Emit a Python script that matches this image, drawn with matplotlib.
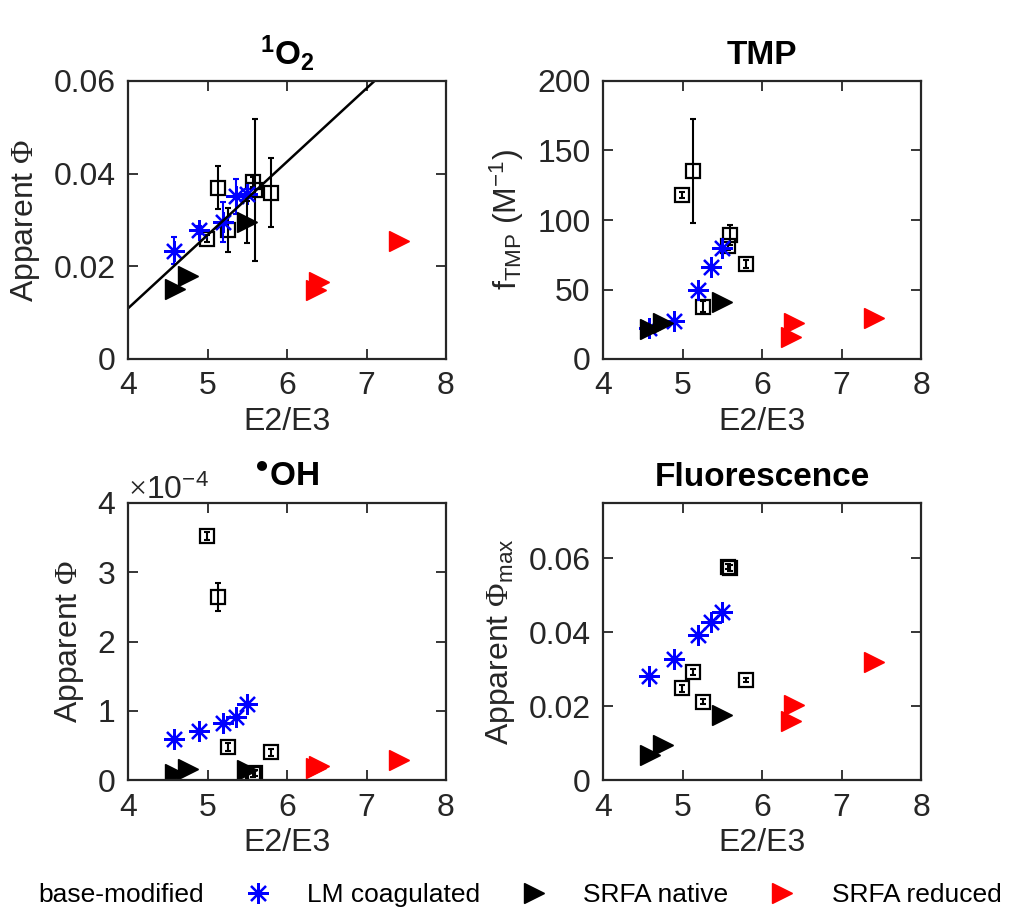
import numpy as np
import matplotlib
matplotlib.use("Agg")
import matplotlib.pyplot as plt
from matplotlib.lines import Line2D
from matplotlib.ticker import ScalarFormatter

plt.rcParams['font.family'] = ['Liberation Sans', 'DejaVu Sans']
plt.rcParams['mathtext.fontset'] = 'custom'
plt.rcParams['mathtext.rm'] = 'Liberation Serif'
plt.rcParams['mathtext.sf'] = 'Liberation Sans'
plt.rcParams['mathtext.bf'] = 'Liberation Sans:bold'
plt.rcParams['mathtext.it'] = 'Liberation Sans:italic'
plt.rcParams['mathtext.fallback'] = 'stixsans'

# ---- E2/E3 of each sample group ----
base_x = [4.99, 5.13, 5.26, 5.57, 5.60, 5.80]
lm_x = [4.58, 4.89, 5.19, 5.36, 5.50]
native_x = [4.59, 4.76, 5.50]
reduced_x = [6.37, 6.40, 7.41]

# ---- singlet oxygen apparent quantum yield ----
o2_base = [0.0260, 0.0370, 0.0278, 0.0382, 0.0364, 0.0359]
o2_base_err = [0.0008, 0.0047, 0.0047, 0.0010, 0.0153, 0.0074]
o2_lm = [0.0234, 0.0278, 0.0295, 0.0351, 0.0357]
o2_lm_err = [0.0029, 0.0008, 0.0043, 0.0038, 0.0010]
o2_native = [0.0152, 0.0180, 0.0296]
o2_native_err = [0.0005, 0.0005, 0.0046]
o2_reduced = [0.0150, 0.0166, 0.0255]
o2_fit_slope = 0.01583
o2_fit_intercept = -0.0524

# ---- TMP (triplet) reactivity ----
tmp_base = [118.0, 135.3, 37.6, 81.3, 89.2, 68.3]
tmp_base_err = [2.0, 37.4, 4.0, 3.0, 7.0, 3.0]
tmp_lm = [22.0, 27.6, 49.6, 66.4, 79.6]
tmp_native = [21.8, 26.1, 41.0]
tmp_reduced = [15.8, 25.7, 29.5]

# ---- hydroxyl radical apparent quantum yield ----
oh_base = [3.52e-4, 2.64e-4, 0.48e-4, 0.08e-4, 0.10e-4, 0.40e-4]
oh_base_err = [0.06e-4, 0.20e-4, 0.06e-4, 0.04e-4, 0.04e-4, 0.05e-4]
oh_lm = [0.588e-4, 0.713e-4, 0.83e-4, 0.906e-4, 1.098e-4]
oh_native = [0.09e-4, 0.164e-4, 0.15e-4]
oh_reduced = [0.17e-4, 0.20e-4, 0.29e-4]

# ---- fluorescence maximum apparent quantum yield ----
fl_base = [0.0248, 0.0293, 0.0212, 0.0578, 0.0575, 0.0270]
fl_base_err = [0.0010, 0.0008, 0.0007, 0.0008, 0.0008, 0.0006]
fl_lm = [0.0281, 0.0327, 0.0392, 0.0428, 0.0455]
fl_native = [0.0067, 0.0096, 0.0176]
fl_reduced = [0.0160, 0.0204, 0.0320]

legend_labels = ['base-modified', 'LM coagulated', 'SRFA native', 'SRFA reduced']

FS = 23
AX_COLOR = '#262626'
BLUE = (0, 0, 1)
RED = (1, 0, 0)
STAR = (8, 2, 0)

square_kw = dict(marker='s', ms=9.5, mfc='none', mec='k', mew=1.6, ls='none')
star_kw = dict(marker=STAR, ms=15, mec=BLUE, mew=1.6, ls='none')
native_kw = dict(marker='>', ms=15, mfc='k', mec='k', ls='none')
reduced_kw = dict(marker='>', ms=15, mfc=RED, mec=RED, ls='none')
err_kw = dict(fmt='none', elinewidth=1.5, capsize=2, capthick=1.5)

fig = plt.figure(figsize=(10.16, 9.11), dpi=100)

W, H = 1016, 911


def make_axes(left, top, right, bottom):
    return fig.add_axes([left / W, 1 - bottom / H, (right - left) / W, (bottom - top) / H])


ax1 = make_axes(128, 81, 446, 359)
ax2 = make_axes(603, 81, 921, 359)
ax3 = make_axes(128, 503, 446, 780)
ax4 = make_axes(603, 503, 921, 780)


def style(ax):
    ax.set_xlim(4, 8)
    ax.set_xticks([4, 5, 6, 7, 8])
    ax.tick_params(direction='in', top=True, right=True, length=7, width=1.3,
                   labelsize=FS, colors=AX_COLOR, pad=9)
    for s in ax.spines.values():
        s.set_linewidth(1.6)
        s.set_color(AX_COLOR)
    ax.set_xlabel('E2/E3', fontsize=FS, color=AX_COLOR, labelpad=4)


def draw(ax, b, berr, l, lerr, n, nerr, r):
    if berr is not None:
        ax.errorbar(base_x, b, yerr=berr, ecolor='k', **err_kw)
    ax.plot(base_x, b, **square_kw)
    if lerr is not None:
        ax.errorbar(lm_x, l, yerr=lerr, ecolor=BLUE, **err_kw)
    ax.plot(lm_x, l, **star_kw)
    if nerr is not None:
        ax.errorbar(native_x, n, yerr=nerr, ecolor='k', **err_kw)
    ax.plot(native_x, n, **native_kw)
    ax.plot(reduced_x, r, **reduced_kw)


# singlet oxygen
style(ax1)
draw(ax1, o2_base, o2_base_err, o2_lm, o2_lm_err, o2_native, o2_native_err, o2_reduced)
fx = np.array([4.0, 8.0])
ax1.plot(fx, o2_fit_slope * fx + o2_fit_intercept, color='k', lw=1.8)
ax1.set_ylim(0, 0.06)
ax1.set_yticks([0, 0.02, 0.04, 0.06])
ax1.set_yticklabels(['0', '0.02', '0.04', '0.06'])
ax1.set_ylabel(r'Apparent $\Phi$', fontsize=FS, color=AX_COLOR, labelpad=8)
ax1.set_title(r'$^{\mathbf{1}}$O$_{\mathbf{2}}$', fontsize=FS + 1, fontweight='bold', pad=12)

# TMP
style(ax2)
draw(ax2, tmp_base, tmp_base_err, tmp_lm, None, tmp_native, None, tmp_reduced)
ax2.set_ylim(0, 200)
ax2.set_yticks([0, 50, 100, 150, 200])
ax2.set_ylabel(r'f$_{\mathsf{TMP}}$ (M$^{\mathsf{-1}}$)', fontsize=FS, color=AX_COLOR, labelpad=8)
ax2.set_title('TMP', fontsize=FS + 1, fontweight='bold', pad=12)

# hydroxyl radical
style(ax3)
draw(ax3, oh_base, oh_base_err, oh_lm, None, oh_native, None, oh_reduced)
ax3.set_ylim(0, 4e-4)
ax3.set_yticks([0, 1e-4, 2e-4, 3e-4, 4e-4])
fmt = ScalarFormatter(useMathText=True)
fmt.set_powerlimits((-3, 3))
ax3.yaxis.set_major_formatter(fmt)
ax3.yaxis.get_offset_text().set_fontsize(FS)
ax3.yaxis.get_offset_text().set_color(AX_COLOR)
ax3.set_ylabel(r'Apparent $\Phi$', fontsize=FS, color=AX_COLOR, labelpad=8)
ax3.set_title('$^{\u25CF}$OH', fontsize=FS + 1, fontweight='bold', pad=12)

# fluorescence
style(ax4)
draw(ax4, fl_base, fl_base_err, fl_lm, None, fl_native, None, fl_reduced)
ax4.set_ylim(0, 0.075)
ax4.set_yticks([0, 0.02, 0.04, 0.06])
ax4.set_yticklabels(['0', '0.02', '0.04', '0.06'])
ax4.set_ylabel(r'Apparent $\Phi_{\mathsf{max}}$', fontsize=FS, color=AX_COLOR, labelpad=8)
ax4.set_title('Fluorescence', fontsize=FS + 1, fontweight='bold', pad=12)

handles = [
    Line2D([], [], **square_kw),
    Line2D([], [], **star_kw),
    Line2D([], [], **native_kw),
    Line2D([], [], **reduced_kw),
]
fig.legend(handles, legend_labels, loc='center left', bbox_to_anchor=(-0.0368, 1 - 895 / H),
           ncol=4, frameon=False, fontsize=19, handlelength=2.0, handletextpad=0.86,
           columnspacing=1.05, borderpad=0, borderaxespad=0)

fig.savefig('out.png', dpi=100)
